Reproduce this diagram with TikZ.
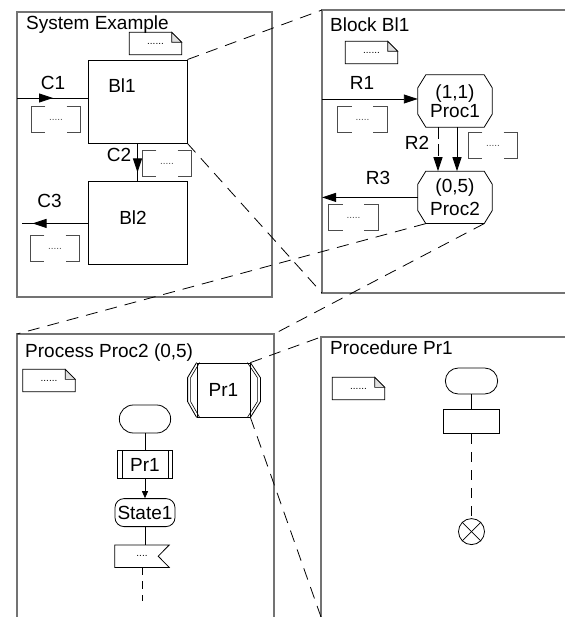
\documentclass[tikz,border=0pt]{standalone}
\usepackage{fontspec}
\setmainfont{Liberation Sans}
\usetikzlibrary{arrows.meta, positioning, shapes.misc}

\begin{document}
\begin{tikzpicture}[
  x=1pt, y=-1pt,
  font=\fontsize{19}{20}\selectfont,
  frame/.style={draw=black!55, line width=1.5pt},
  block/.style={rectangle, draw, line width=0.9pt, minimum width=99pt, minimum height=83pt},
  proc/.style={rectangle, minimum width=74pt, minimum height=52pt, inner sep=0pt, align=center},
  note/.style={rectangle, minimum width=52pt, minimum height=22pt, inner sep=0pt, font=\fontsize{10}{10}\selectfont},
  sig/.style={rectangle, minimum width=49pt, minimum height=25pt, inner sep=0pt, text=black!70, font=\fontsize{10}{10}\selectfont},
  lbl/.style={anchor=base, inner sep=0pt},
  title/.style={anchor=base west, inner sep=0pt},
  edge/.style={-{Triangle[length=14pt, width=9pt]}, line width=0.9pt},
  small edge/.style={-{Triangle[length=7pt, width=6pt]}, line width=0.8pt},
  zoom/.style={dash pattern=on 12pt off 8pt, line width=0.8pt},
  startsym/.style={rounded rectangle, draw, line width=0.8pt, minimum width=59pt, minimum height=27pt},
  task/.style={rectangle, draw, line width=0.8pt, minimum width=56pt, minimum height=25pt, inner sep=0pt},
  statesym/.style={rectangle, draw, rounded corners=9pt, line width=0.8pt, minimum width=60pt, minimum height=28pt, inner sep=0pt}
]
\useasboundingbox (0,0) rectangle (565,617);

% frames
\coordinate (f2nw) at (322,10);
\coordinate (f2sw) at (322,293);
\coordinate (f3nw) at (17,334);
\coordinate (f3ne) at (274,334);
\coordinate (f4nw) at (321,337);
\coordinate (f4sw) at (321,617);
\draw[frame] (17,12) rectangle (272,297);
\draw[frame] (565,10) -- (f2nw) -- (f2sw) -- (565,293);
\draw[frame] (17,617) -- (f3nw) -- (f3ne) -- (274,617);
\draw[frame] (f4sw) -- (f4nw) -- (565,337);

% System Example
\node[title] (t1) at (26,29.5) {System Example};
\node[note] (note1) at (155.5,43.5) {......};
\node[block] (bl1) at (137.5,101.5) {};
\node[block, below=38pt of bl1] (bl2) {};
\node[lbl] (bl1txt) at (122,93) {Bl1};
\node[lbl] (bl2txt) at (133,225) {Bl2};
\coordinate (c1in) at (17,98);
\draw[line width=0.9pt] (c1in) -- (c1in -| bl1.west);
\draw[edge] (c1in) -- ++(36,0);
\draw[line width=0.9pt] (bl1.south) -- (bl2.north);
\draw[edge] (bl1.south) -- ++(0,29);
\draw[line width=0.9pt] (bl2.west) -- ++(-66,0);
\draw[edge] (bl2.west) -- ++(-55,0);
\node[lbl] (c1) at (53,90) {C1};
\node[lbl] (c2) at (119,162) {C2};
\node[lbl] (c3) at (49.5,208) {C3};
\node[sig] (sig1) at (56,119.5) {.....};
\node[sig] (sig2) at (167,163.5) {.....};
\node[sig] (sig3) at (55,248.5) {.....};

% Block Bl1
\node[title] (t2) at (330,32) {Block Bl1};
\node[note] (note2) at (371.5,52.5) {......};
\node[proc] (proc1) at (455,101) {(1,1)\\[-1pt]Proc1};
\node[proc, below=44pt of proc1] (proc2) {(0,5)\\[3pt]Proc2};
\foreach \p in {proc1,proc2}
  \draw[line width=0.8pt] ([xshift=8pt]\p.north west) -- ([xshift=-8pt]\p.north east)
    -- ([yshift=-13pt]\p.north east) -- ([yshift=13pt]\p.south east)
    -- ([xshift=-8pt]\p.south east) -- ([xshift=8pt]\p.south west)
    -- ([yshift=13pt]\p.south west) -- ([yshift=-13pt]\p.north west) -- cycle;
\coordinate (r1in) at (322,99);
\draw[edge] (r1in) -- (r1in -| proc1.west);
\draw[edge, dash pattern=on 12pt off 5pt] ([xshift=-17pt]proc1.south) -- ([xshift=-17pt]proc2.north);
\draw[edge] ([xshift=2pt]proc1.south) -- ([xshift=2pt]proc2.north);
\draw[edge] (proc2.west) -- (proc2.west -| f2nw);
\node[lbl] (r1) at (362,90) {R1};
\node[lbl] (r2) at (417,150) {R2};
\node[lbl] (r3) at (378,185) {R3};
\node[sig] (sig4) at (362.5,119.5) {.....};
\node[sig] (sig5) at (493,145.5) {.....};
\node[sig] (sig6) at (353.5,217.5) {.....};

% Process Proc2 (0,5)
\node[title] (t3) at (25,357) {Process Proc2 (0,5)};
\node[note] (note3) at (49,380.5) {......};
\node[rectangle, draw, line width=0.8pt, minimum width=53pt, minimum height=54pt] (pref) at (223.5,390) {Pr1};
\draw[line width=0.8pt] (pref.north west) -- ++(-9,15) -- ++(0,24) -- (pref.south west);
\draw[line width=0.6pt] ([xshift=3pt]pref.north west) -- ++(-9,15) -- ++(0,24) -- ([xshift=3pt]pref.south west);
\draw[line width=0.8pt] (pref.north east) -- ++(10,15) -- ++(0,24) -- (pref.south east);
\draw[line width=0.6pt] ([xshift=-3pt]pref.north east) -- ++(10,15) -- ++(0,24) -- ([xshift=-3pt]pref.south east);
\node[startsym, minimum width=58pt, minimum height=28pt] (start1) at (145,419) {};
\node[task, minimum width=55pt, minimum height=28pt, below=17pt of start1] (pcall) {Pr1};
\draw[line width=0.6pt] ([xshift=5pt]pcall.north west) -- ([xshift=5pt]pcall.south west);
\draw[line width=0.6pt] ([xshift=-5pt]pcall.north east) -- ([xshift=-5pt]pcall.south east);
\node[statesym, below=19pt of pcall] (state1) {State1};
\node[rectangle, minimum width=54pt, minimum height=22pt, inner sep=0pt,
      font=\fontsize{10}{10}\selectfont, below=18pt of state1, xshift=-3pt] (in1) {....\hspace{8pt}};
\draw[line width=0.8pt] (in1.north west) -- (in1.north east) -- ([xshift=-11pt]in1.east)
  -- (in1.south east) -- (in1.south west) -- cycle;
\coordinate[below=34pt of in1.south] (in1end);
\draw[line width=0.8pt] (start1) -- (pcall);
\draw[small edge] (pcall) -- (state1);
\draw[line width=0.8pt] (state1.south) -- (state1.south |- in1.north);
\draw[line width=0.8pt, dash pattern=on 8pt off 6pt] (in1.south) -- (in1end);

% Procedure Pr1
\node[title] (t4) at (330,354) {Procedure Pr1};
\node[note] (note4) at (358.5,388.5) {......};
\node[startsym, minimum height=26pt] (pstart) at (471.5,381) {};
\node[task, minimum height=24pt, below=15pt of pstart] (ptask) {};
\node[circle, draw, line width=0.8pt, minimum size=26pt, inner sep=0pt, below=84pt of ptask] (pret) {};
\draw[line width=0.8pt] (pret.north west) -- (pret.south east);
\draw[line width=0.8pt] (pret.north east) -- (pret.south west);
\draw[line width=0.8pt] (pstart) -- (ptask);
\draw[line width=0.8pt, dash pattern=on 10pt off 8pt] (ptask) -- (pret);

% notes and signal lists
\foreach \nn in {note1,note2,note3,note4}{
  \draw[line width=0.8pt] (\nn.south west) -- (\nn.north west) -- ([xshift=-10pt]\nn.north east)
    -- ([yshift=-10pt]\nn.north east) -- (\nn.south east) -- cycle;
  \draw[line width=0.6pt, fill=black!12] ([xshift=-10pt]\nn.north east) |- ([yshift=-10pt]\nn.north east) -- cycle;
}
\foreach \s in {sig1,sig2,sig3,sig4,sig5,sig6}{
  \draw[black!70, line width=0.8pt] ([xshift=14pt]\s.north west) -| (\s.south west) -- ++(14,0);
  \draw[black!70, line width=0.8pt] ([xshift=-14pt]\s.north east) -| (\s.south east) -- ++(-14,0);
}

% zoom lines
\draw[zoom] (bl1.north east) -- (f2nw);
\draw[zoom] (bl1.south east) -- (f2sw);
\draw[zoom] ([xshift=8pt]proc2.south west) -- (f3nw);
\draw[zoom] ([xshift=-8pt]proc2.south east) -- (f3ne);
\draw[zoom] (pref.north east) -- (f4nw);
\draw[zoom] (pref.south east) -- (f4sw);
\end{tikzpicture}
\end{document}
